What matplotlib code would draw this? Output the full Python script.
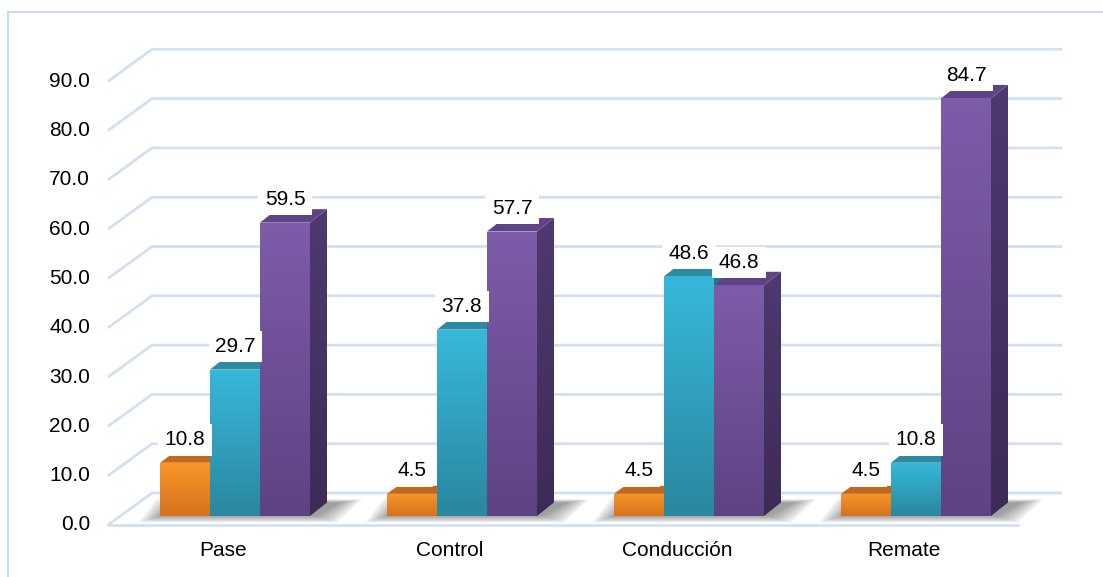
import numpy as np
import matplotlib.pyplot as plt
from matplotlib.patches import Polygon, Rectangle
from matplotlib.lines import Line2D
from matplotlib.colors import LinearSegmentedColormap

categorias = ["Pase", "Control", "Conducción", "Remate"]
serie_naranja = [10.8, 4.5, 4.5, 4.5]
serie_celeste = [29.7, 37.8, 48.6, 10.8]
serie_morada = [59.5, 57.7, 46.8, 84.7]
marcas_y = [0, 10, 20, 30, 40, 50, 60, 70, 80, 90]

plt.rcParams['font.family'] = ['Liberation Sans', 'DejaVu Sans']

W, H = 1103, 577
fig = plt.figure(figsize=(W / 100, H / 100), dpi=100)
ax = fig.add_axes([0, 0, 1, 1])
ax.axis('off')

# scale: one category step = 227 px, one value unit = 4.93 px
sx, sy = 227.0, 4.93
ox, oy = 235.0, 516.0   # pixel position of category 0 / value 0


def off(dx_px, dy_px):
    return dx_px / sx, dy_px / sy


# floor and back wall
piso_y = -9 / sy
piso_x0 = -127 / sx
piso_x1 = 783 / sx
prof_x, prof_y = off(44, 32)
grid_color = '#D3E0F2'
for v in marcas_y:
    y = piso_y + v
    ax.plot([piso_x0, piso_x0 + prof_x, piso_x1 + prof_x],
            [y, y + prof_y, y + prof_y], color=grid_color, lw=2, zorder=1,
            solid_capstyle='butt')
    ax.text(piso_x0 - 18 / sx, y, f"{v:.1f}", ha='right', va='center', fontsize=15)
ax.plot([piso_x0, piso_x1], [piso_y, piso_y], color=grid_color, lw=2, zorder=1)

series = [
    # values, front top, front bottom, top face, side top, side bottom, depth px
    (serie_naranja, '#F8962B', '#D6721D', '#C4671B', '#A9561A', '#8F4815', (11, 8)),
    (serie_celeste, '#37B8DB', '#2A879F', '#2A8BA3', '#24788F', '#1F6577', (10, 8)),
    (serie_morada, '#7D5CA9', '#5E4383', '#5E4487', '#4F3971', '#3D2B57', (17, 13.5)),
]
bw = 50 / sx
n = len(series)

# soft shadow under each group
for i in range(len(categorias)):
    gx0 = i - n * bw / 2
    gx1 = i + n * bw / 2
    dx, dy = off(17, 13.5)
    for k in range(8):
        ex, ey = off(3 * k, 1.5 * k)
        sh = Polygon([(gx0 - ex, -ey * 0.6), (gx1 + ex + 6 / sx, -ey * 0.6),
                      (gx1 + dx + ex + 14 / sx, dy + ey * 0.3),
                      (gx0 + dx - ex, dy + ey * 0.3)],
                     closed=True, facecolor='#303030', edgecolor='none',
                     alpha=0.07, zorder=2)
        ax.add_patch(sh)

grad = np.linspace(0, 1, 256).reshape(-1, 1)
z = 3
for i in range(len(categorias)):
    for j, (vals, ctop, cbot, ctapa, clat_t, clat_b, prof) in enumerate(series):
        h = vals[i]
        x0 = i + (j - 1) * bw - bw / 2
        dx, dy = off(*prof)
        # side face
        cmap_lat = LinearSegmentedColormap.from_list('lat', [clat_b, clat_t])
        lado = Polygon([(x0 + bw, 0), (x0 + bw + dx, dy), (x0 + bw + dx, h + dy), (x0 + bw, h)],
                       closed=True, facecolor='none', edgecolor='none', zorder=z)
        ax.add_patch(lado)
        im = ax.imshow(grad, cmap=cmap_lat, origin='lower', aspect='auto',
                       extent=[x0 + bw, x0 + bw + dx, 0, h + dy], zorder=z)
        im.set_clip_path(lado)
        # top face
        tapa = Polygon([(x0, h), (x0 + bw, h), (x0 + bw + dx, h + dy), (x0 + dx, h + dy)],
                       closed=True, facecolor=ctapa, edgecolor='none', zorder=z + 0.1)
        ax.add_patch(tapa)
        # front face
        cmap_fr = LinearSegmentedColormap.from_list('fr', [cbot, ctop])
        frente = Rectangle((x0, 0), bw, h, facecolor='none', edgecolor='none', zorder=z + 0.2)
        ax.add_patch(frente)
        im = ax.imshow(grad, cmap=cmap_fr, origin='lower', aspect='auto',
                       extent=[x0, x0 + bw, 0, h], zorder=z + 0.2)
        im.set_clip_path(frente)
        z += 1

# value labels
for i in range(len(categorias)):
    for j, (vals, *_rest) in enumerate(series):
        h = vals[i]
        xc = i + (j - 1) * bw
        ax.text(xc, h + 23 / sy, f"{h:.1f}", ha='center', va='center', fontsize=15,
                zorder=50, bbox=dict(boxstyle='square,pad=0.3', facecolor='white',
                                     edgecolor='none'))

for i, c in enumerate(categorias):
    ax.text(i - 12 / sx, -35 / sy, c, ha='center', va='center', fontsize=15)

ax.set_xlim(-ox / sx, (W - ox) / sx)
ax.set_ylim(-(H - oy) / sy, oy / sy)

# chart frame
borde = '#C9DBF1'
fig.add_artist(Line2D([8 / W, 8 / W], [0, 1 - 12 / H], transform=fig.transFigure,
                      color=borde, lw=1.5))
fig.add_artist(Line2D([8 / W, 1], [1 - 12 / H, 1 - 12 / H], transform=fig.transFigure,
                      color=borde, lw=1.5))

fig.savefig('out.png', dpi=100)
